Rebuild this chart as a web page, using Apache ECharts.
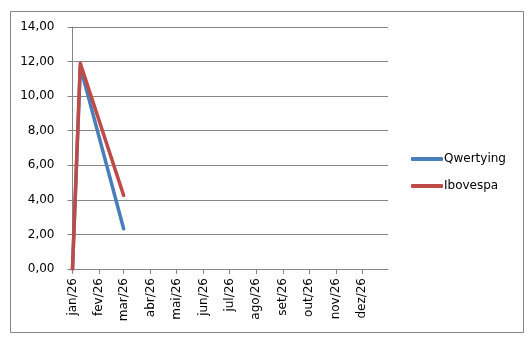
<!DOCTYPE html>
<html><head><meta charset="utf-8">
<script src="https://cdn.jsdelivr.net/npm/echarts@6/dist/echarts.min.js"></script>
<style>html,body{margin:0;padding:0;background:#fff}#c{width:531px;height:341px}</style>
</head><body><div id="c"></div>
<script>
// Data
const seriesNames = ['Qwertying', 'Ibovespa'];
const dates = ['2026-01-01', '2026-01-10', '2026-03-01'];
const qwertying = [0, 11.7, 2.33];
const ibovespa = [0, 11.9, 4.26];
const tickDates = ['2026-01-01','2026-02-01','2026-03-01','2026-04-01','2026-05-01','2026-06-01','2026-07-01','2026-08-01','2026-09-01','2026-10-01','2026-11-01','2026-12-01'];
const tickLabels = ['jan/26','fev/26','mar/26','abr/26','mai/26','jun/26','jul/26','ago/26','set/26','out/26','nov/26','dez/26'];
const axisStart = '2026-01-01';
const axisEnd = '2026-12-31';

function dayIndex(s) {
  const p = s.split('-').map(Number);
  const p0 = axisStart.split('-').map(Number);
  return Math.round((Date.UTC(p[0], p[1]-1, p[2]) - Date.UTC(p0[0], p0[1]-1, p0[2])) / 86400000);
}
const tickPos = tickDates.map(dayIndex);
const labelMap = {};
tickPos.forEach((d, i) => labelMap[d] = tickLabels[i]);

const chart = echarts.init(document.getElementById('c'), null, {renderer: 'canvas'});
const font = 'DejaVu Sans';
chart.setOption({
  animation: false,
  graphic: [{
    type: 'rect', shape: {x: 10.5, y: 11.5, width: 513, height: 321},
    style: {fill: 'none', stroke: '#868686', lineWidth: 1}, z: -1
  }],
  grid: {left: 72.5, right: 143, top: 27, bottom: 72, containLabel: false},
  legend: {
    orient: 'vertical', left: 411, top: 153, padding: 0, itemWidth: 32, itemHeight: 4, itemGap: 15,
    icon: 'roundRect',
    textStyle: {fontFamily: font, fontSize: 12, color: '#000', padding: [0, 0, 0, -4]},
    data: seriesNames
  },
  xAxis: {
    type: 'value', min: 0, max: dayIndex(axisEnd),
    axisLine: {show: true, lineStyle: {color: '#868686', width: 1}},
    axisTick: {show: true, length: 5, lineStyle: {color: '#868686'}, customValues: tickPos},
    axisLabel: {
      customValues: tickPos, rotate: 90, margin: 9,
      fontFamily: font, fontSize: 12, color: '#000',
      formatter: v => labelMap[v] || ''
    },
    splitLine: {show: false}
  },
  yAxis: {
    type: 'value', min: 0, max: 14, interval: 2,
    axisLine: {show: true, lineStyle: {color: '#868686', width: 1}},
    axisTick: {show: true, length: 5, lineStyle: {color: '#868686'}},
    axisLabel: {fontFamily: font, fontSize: 12, color: '#000', margin: 18,
      formatter: v => v.toFixed(2).replace('.', ',')},
    splitLine: {show: true, lineStyle: {color: '#868686', width: 1}}
  },
  series: [
    {name: seriesNames[0], type: 'line', showSymbol: false, symbol: 'none',
     color: '#4A7EBB', lineStyle: {width: 3.5, cap: 'round', join: 'round'},
     data: dates.map((d, i) => [dayIndex(d), qwertying[i]])},
    {name: seriesNames[1], type: 'line', showSymbol: false, symbol: 'none',
     color: '#BE4B48', lineStyle: {width: 3.5, cap: 'round', join: 'round'},
     data: dates.map((d, i) => [dayIndex(d), ibovespa[i]])}
  ]
});
</script></body></html>
